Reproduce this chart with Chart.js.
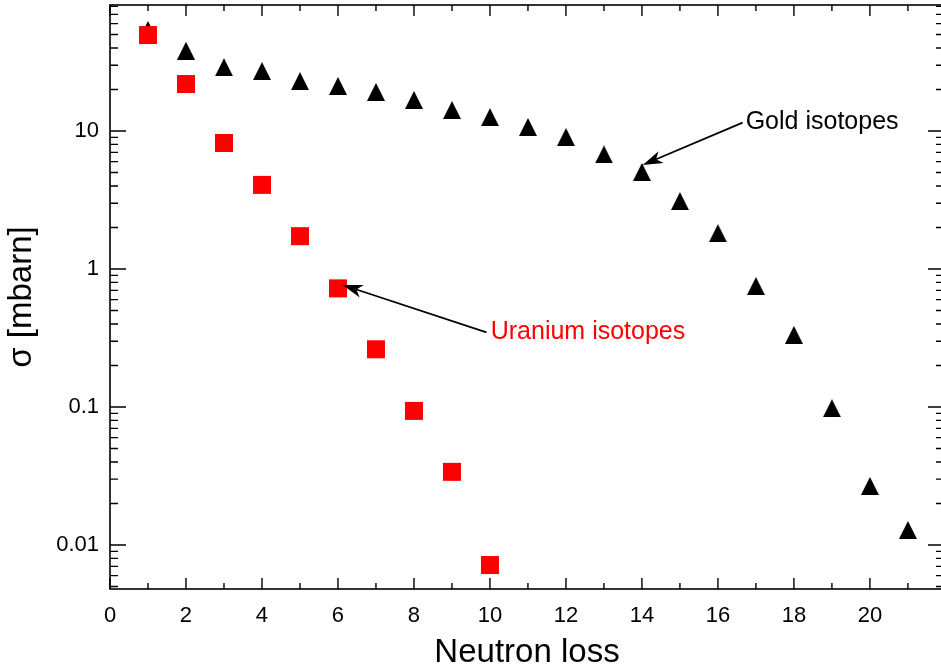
<!DOCTYPE html>
<html><head><meta charset="utf-8">
<script src="https://cdn.jsdelivr.net/npm/chart.js@4"></script>
<style>html,body{margin:0;padding:0;overflow:hidden;background:#fff}#wrap{width:946px;height:671px;position:relative}canvas{display:block}</style>
</head><body><div id="wrap"><canvas id="c" width="946" height="671"></canvas></div>
<script>
// ---- data ----
const goldLoss = [1,2,3,4,5,6,7,8,9,10,11,12,13,14,15,16,17,18,19,20,21];
const goldSigma = [54, 38.2, 29.0, 27.2, 23.0, 21.2, 19.2, 16.8, 14.2, 12.6, 10.7, 9.05, 6.76, 5.05, 3.11, 1.82, 0.753, 0.333, 0.098, 0.0268, 0.01285];
const uraniumLoss = [1,2,3,4,5,6,7,8,9,10];
const uraniumSigma = [49.6, 21.9, 8.19, 4.07, 1.73, 0.724, 0.262, 0.0937, 0.0339, 0.00716];
const xTickLabels = ['0','2','4','6','8','10','12','14','16','18','20'];
const yTickLabels = ['0.01','0.1','1','10'];
const goldLabel = 'Gold isotopes';
const uraniumLabel = 'Uranium isotopes';

// ---- styles / layout ----
const X_MIN = 0, X_MAX = 21.95, Y_MIN = 0.0048, Y_MAX = 81.9;
const AREA = {left: 110, top: 5, right: 944, bottom: 589};
const tickFontCss = '22px "Liberation Sans Narrow", "Liberation Sans", Arial, sans-serif';
const titleFont = {family: '"Liberation Sans", Arial, sans-serif', size: 33, lineHeight: 1.1};
const annFont = '25px "Liberation Sans", Arial, sans-serif';

const xTickVals = []; for (let v = 0; v <= 21; v++) xTickVals.push(v);
const yTickVals = []; for (let e = -3; e <= 1; e++) for (let m = 1; m <= 9; m++) { const v = m * Math.pow(10, e); if (v >= Y_MIN && v <= Y_MAX) yTickVals.push(v); }
const yMajorVals = yTickLabels.map(Number);
const xMajorVals = xTickLabels.map(Number);

const tri = document.createElement('canvas'); tri.width = 18; tri.height = 18;
(function(){ const t = tri.getContext('2d'); t.fillStyle = '#000'; t.beginPath(); t.moveTo(9,0); t.lineTo(18,18); t.lineTo(0,18); t.closePath(); t.fill(); })();

const annotations = [
  {text: goldLabel, color: '#000', tx: 16.73, ty: 11.6, from: [16.65, 11.5], to: [14.02, 5.68]},
  {text: uraniumLabel, color: '#ff0000', tx: 10.02, ty: 0.348, from: [9.91, 0.348], to: [6.125, 0.766]}
];

function drawArrow(ctx, x1, y1, x2, y2) {
  const a = Math.atan2(y2 - y1, x2 - x1), c = Math.cos(a), s = Math.sin(a);
  const L = 20, W = 6.5;
  ctx.beginPath(); ctx.moveTo(x1, y1); ctx.lineTo(x2 - 12 * c, y2 - 12 * s); ctx.stroke();
  ctx.beginPath();
  ctx.moveTo(x2, y2);
  ctx.lineTo(x2 - L * c + W * s, y2 - L * s - W * c);
  ctx.lineTo(x2 - 0.72 * L * c, y2 - 0.72 * L * s);
  ctx.lineTo(x2 - L * c - W * s, y2 - L * s + W * c);
  ctx.closePath(); ctx.fill();
}

const framePlugin = {
  id: 'frame',
  afterDraw(chart) {
    const ctx = chart.ctx, a = chart.chartArea, xs = chart.scales.x, ys = chart.scales.y;
    ctx.save();
    ctx.strokeStyle = '#000'; ctx.lineWidth = 1.6;
    ctx.strokeRect(a.left, a.top, a.right - a.left, a.bottom - a.top);
    ctx.lineWidth = 1.4;
    ctx.beginPath();
    xTickVals.forEach(v => {
      const px = xs.getPixelForValue(v); const len = xMajorVals.includes(v) ? 11 : 6;
      ctx.moveTo(px, a.bottom); ctx.lineTo(px, a.bottom - len);
      ctx.moveTo(px, a.top); ctx.lineTo(px, a.top + len);
    });
    yTickVals.forEach(v => {
      const py = ys.getPixelForValue(v); const major = yMajorVals.some(m => Math.abs(m - v) / m < 1e-6); const len = major ? 16 : 8;
      ctx.moveTo(a.left, py); ctx.lineTo(a.left + len, py);
      ctx.moveTo(a.right, py); ctx.lineTo(a.right - len, py);
    });
    ctx.stroke();
    // tick labels
    ctx.fillStyle = '#000'; ctx.font = tickFontCss; ctx.textBaseline = 'middle';
    ctx.textAlign = 'center';
    xMajorVals.forEach((v, i) => ctx.fillText(xTickLabels[i], xs.getPixelForValue(v), a.bottom + 27));
    ctx.textAlign = 'right';
    yMajorVals.forEach((v, i) => ctx.fillText(yTickLabels[i], a.left - 11, ys.getPixelForValue(v)));
    // annotations
    ctx.font = annFont; ctx.textAlign = 'left';
    annotations.forEach(an => {
      ctx.fillStyle = an.color;
      ctx.fillText(an.text, xs.getPixelForValue(an.tx), ys.getPixelForValue(an.ty));
      ctx.strokeStyle = '#000'; ctx.fillStyle = '#000'; ctx.lineWidth = 1.8;
      drawArrow(ctx, xs.getPixelForValue(an.from[0]), ys.getPixelForValue(an.from[1]), xs.getPixelForValue(an.to[0]), ys.getPixelForValue(an.to[1]));
    });
    ctx.restore();
  }
};

const pad = {left: 0, top: 5, right: 2, bottom: 0};
const chart = new Chart(document.getElementById('c'), {
  type: 'scatter',
  data: {
    datasets: [
      {label: uraniumLabel, data: uraniumLoss.map((x, i) => ({x, y: uraniumSigma[i]})), pointStyle: 'rect', pointRadius: 12.73, pointBackgroundColor: '#ff0000', pointBorderWidth: 0, showLine: false, clip: false},
      {label: goldLabel, data: goldLoss.map((x, i) => ({x, y: goldSigma[i]})), pointStyle: tri, pointRadius: 9, pointBackgroundColor: '#000', pointBorderWidth: 0, showLine: false, clip: false}
    ]
  },
  options: {
    responsive: false, animation: false, events: [],
    layout: {autoPadding: false, padding: Object.assign({}, pad)},
    plugins: {legend: {display: false}, tooltip: {enabled: false}},
    scales: {
      x: {
        type: 'linear', min: X_MIN, max: X_MAX,
        afterBuildTicks: s => { s.ticks = xTickVals.map(v => ({value: v})); },
        afterFit: s => { s.height = 82; },
        grid: {display: false, drawTicks: false}, border: {display: false},
        ticks: {display: false},
        title: {display: true, text: 'Neutron loss', color: '#000', font: titleFont, padding: {top: 0, bottom: 0}}
      },
      y: {
        type: 'logarithmic', min: Y_MIN, max: Y_MAX,
        afterBuildTicks: s => { s.ticks = yTickVals.map(v => ({value: v})); },
        afterFit: s => { s.width = 110; },
        grid: {display: false, drawTicks: false}, border: {display: false},
        ticks: {display: false},
        title: {display: true, text: 'σ [mbarn]', color: '#000', font: titleFont, padding: {top: 3.5, bottom: 0}}
      }
    }
  },
  plugins: [framePlugin]
});
for (let k = 0; k < 3; k++) {
  const a = chart.chartArea;
  const d = [AREA.left - a.left, AREA.top - a.top, a.right - AREA.right, a.bottom - AREA.bottom];
  if (d.every(v => Math.abs(v) < 0.5)) break;
  pad.left += d[0]; pad.top += d[1]; pad.right += d[2]; pad.bottom += d[3];
  chart.options.layout.padding = Object.assign({}, pad);
  chart.update();
}
</script></body></html>
